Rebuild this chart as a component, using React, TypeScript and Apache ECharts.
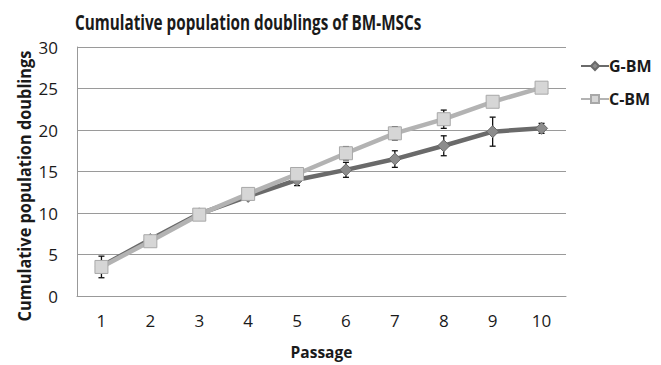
import React, { useEffect, useRef } from "react";
import * as echarts from "echarts";

const passages = ["1", "2", "3", "4", "5", "6", "7", "8", "9", "10"];
const gbm = [3.6, 6.8, 9.9, 12.0, 14.0, 15.2, 16.5, 18.1, 19.8, 20.2];
const gbmErr = [0.4, 0.4, 0.5, 0.4, 0.7, 0.9, 1.0, 1.2, 1.75, 0.6];
const cbm = [3.5, 6.6, 9.8, 12.3, 14.7, 17.2, 19.6, 21.3, 23.4, 25.1];
const cbmErr = [1.3, 0.4, 0.5, 0.4, 0.5, 0.8, 0.8, 1.1, 0.3, 0.3];
const yTicks = [0, 5, 10, 15, 20, 25, 30];

const FONT = "'Open Sans', 'Liberation Sans', sans-serif";

function errSeries(vals: number[], errs: number[], z: number) {
  return {
    type: "custom",
    z,
    silent: true,
    data: vals.map((v, i) => [i, v - errs[i], v + errs[i]]),
    renderItem: (params: any, api: any) => {
      const x = api.value(0);
      const lo = api.coord([x, api.value(1)]);
      const hi = api.coord([x, api.value(2)]);
      const w = 3;
      const style = { stroke: "#111", lineWidth: 1.3 };
      return {
        type: "group",
        children: [
          { type: "line", shape: { x1: lo[0], y1: lo[1], x2: hi[0], y2: hi[1] }, style },
          { type: "line", shape: { x1: lo[0] - w, y1: lo[1], x2: lo[0] + w, y2: lo[1] }, style },
          { type: "line", shape: { x1: hi[0] - w, y1: hi[1], x2: hi[0] + w, y2: hi[1] }, style },
        ],
      };
    },
  };
}

export default function App() {
  const ref = useRef<HTMLDivElement>(null);
  useEffect(() => {
    if (!ref.current) return;
    const chart = echarts.init(ref.current, undefined, { renderer: "svg" });
    chart.setOption({
      animation: false,
      backgroundColor: "#fff",
      graphic: [
        {
          type: "text",
          x: 75,
          y: 22,
          scaleX: 0.745,
          style: {
            text: "Cumulative population doublings of BM-MSCs",
            fontFamily: FONT,
            fontWeight: "bold",
            fontSize: 20.5,
            fill: "#1a1a1a",
            textAlign: "left",
            textVerticalAlign: "middle",
          },
        },
        {
          type: "text",
          x: 24,
          y: 186,
          rotation: Math.PI / 2,
          scaleX: 0.96,
          style: {
            text: "Cumulative population doublings",
            fontFamily: FONT,
            fontWeight: "bold",
            fontSize: 17,
            fill: "#1a1a1a",
            textAlign: "center",
            textVerticalAlign: "middle",
          },
        },
      ],
      legend: {
        orient: "vertical",
        left: 575,
        top: 53,
        itemGap: 17,
        itemWidth: 28,
        itemHeight: 10,
        data: ["G-BM", "C-BM"],
        textStyle: { fontFamily: FONT, fontWeight: "bold", fontSize: 16, color: "#1a1a1a", padding: [0, 0, 0, -5] },
      },
      grid: { left: 77, right: 95, top: 47, bottom: 68 },
      xAxis: {
        type: "category",
        data: passages,
        boundaryGap: true,
        name: "Passage",
        nameLocation: "middle",
        nameGap: 48,
        nameTextStyle: { fontFamily: FONT, fontWeight: "bold", fontSize: 15.5, color: "#1a1a1a" },
        axisLine: { lineStyle: { color: "#999", width: 1 } },
        axisTick: { show: false },
        axisLabel: { fontFamily: FONT, fontSize: 17, color: "#1a1a1a", margin: 16 },
      },
      yAxis: {
        type: "value",
        min: yTicks[0],
        max: yTicks[yTicks.length - 1],
        interval: 5,
        axisLine: { show: true, lineStyle: { color: "#999", width: 1 } },
        axisTick: { show: false },
        axisLabel: { fontFamily: FONT, fontSize: 17, color: "#1a1a1a", margin: 19 },
        splitLine: { lineStyle: { color: "#9a9a9a", width: 1 } },
      },
      series: [
        {
          name: "G-BM",
          type: "line",
          data: gbm,
          z: 2,
          symbol: "diamond",
          symbolSize: 12,
          lineStyle: { color: "#6a6a6a", width: 4.5 },
          itemStyle: { color: "#8c8c8c", borderColor: "#6a6a6a", borderWidth: 1 },
        },
        {
          name: "C-BM",
          type: "line",
          data: cbm,
          z: 3,
          symbol: "rect",
          symbolSize: 13,
          lineStyle: { color: "#b3b3b3", width: 4.5 },
          itemStyle: { color: "#d6d6d6", borderColor: "#a8a8a8", borderWidth: 1 },
        },
        errSeries(cbm, cbmErr, 1),
        errSeries(gbm, gbmErr, 1),
      ],
    });
    return () => chart.dispose();
  }, []);
  return <div ref={ref} style={{ width: 661, height: 365, position: "absolute", left: 0, top: 0 }} />;
}
